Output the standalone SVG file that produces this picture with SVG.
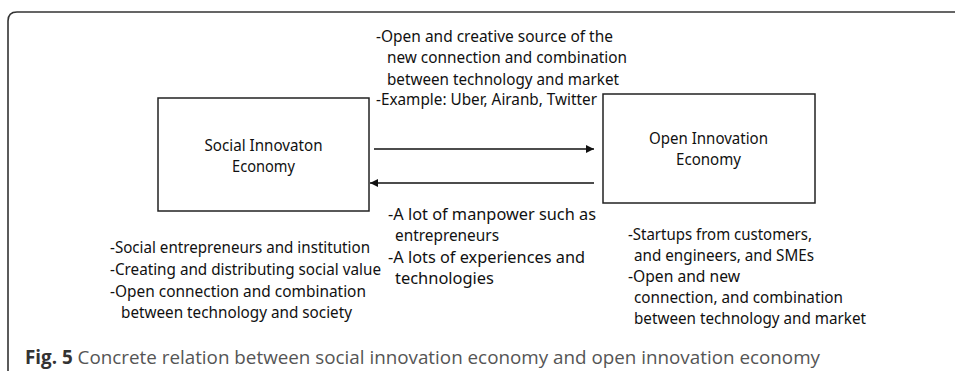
<svg xmlns="http://www.w3.org/2000/svg" width="955" height="371" viewBox="0 0 955 371">
<style>
.frame{fill:none;stroke:#333;stroke-width:1.6}
.box{fill:#fff;stroke:#222;stroke-width:1.5}
.conn{stroke:#111;stroke-width:1.5;fill:none}
text{font-family:"Noto Sans","Open Sans","Liberation Sans",sans-serif;font-size:16px;fill:#111}
.c{text-anchor:middle}
.cap{font-family:"Open Sans","Noto Sans","Liberation Sans",sans-serif;font-size:19px;fill:#555}
.capb{font-weight:bold;fill:#333}
</style>
<defs>
<marker id="ah" viewBox="0 0 10 10" refX="10" refY="5" markerWidth="8" markerHeight="8" markerUnits="userSpaceOnUse" orient="auto">
<path d="M0,0 L10,5 L0,10 z" fill="#111"/>
</marker>
</defs>
<rect width="955" height="371" fill="#fff"/>
<path class="frame" d="M8,371 V21 Q8,12 17,12 H955"/>
<g id="connectors">
<line class="conn" x1="374" y1="149" x2="594" y2="149" marker-end="url(#ah)"/>
<line class="conn" x1="594" y1="183" x2="370" y2="183" marker-end="url(#ah)"/>
</g>
<g id="node-social">
<rect class="box" x="158" y="98" width="211" height="113"/>
<text class="c" x="263.5" y="151" textLength="118" lengthAdjust="spacingAndGlyphs">Social Innovaton</text>
<text class="c" x="263.5" y="172" textLength="63" lengthAdjust="spacingAndGlyphs">Economy</text>
</g>
<g id="node-open">
<rect class="box" x="603" y="94" width="212" height="109"/>
<text class="c" x="708.5" y="144" textLength="119" lengthAdjust="spacingAndGlyphs">Open Innovation</text>
<text class="c" x="708.5" y="165" textLength="65" lengthAdjust="spacingAndGlyphs">Economy</text>
</g>
<g id="label-top">
<text x="376" y="42" textLength="237" lengthAdjust="spacingAndGlyphs">-Open and creative source of the</text>
<text x="387" y="63" textLength="240" lengthAdjust="spacingAndGlyphs">new connection and combination</text>
<text x="387" y="85" textLength="232" lengthAdjust="spacingAndGlyphs">between technology and market</text>
<text x="376" y="105" textLength="221" lengthAdjust="spacingAndGlyphs">-Example: Uber, Airanb, Twitter</text>
</g>
<g id="label-middle">
<text x="388" y="220" textLength="208" lengthAdjust="spacingAndGlyphs">-A lot of manpower such as</text>
<text x="395" y="241" textLength="104" lengthAdjust="spacingAndGlyphs">entrepreneurs</text>
<text x="388" y="263" textLength="197" lengthAdjust="spacingAndGlyphs">-A lots of experiences and</text>
<text x="395" y="284" textLength="99" lengthAdjust="spacingAndGlyphs">technologies</text>
</g>
<g id="label-social">
<text x="110" y="253" textLength="260" lengthAdjust="spacingAndGlyphs">-Social entrepreneurs and institution</text>
<text x="110" y="275" textLength="271" lengthAdjust="spacingAndGlyphs">-Creating and distributing social value</text>
<text x="110" y="297" textLength="256" lengthAdjust="spacingAndGlyphs">-Open connection and combination</text>
<text x="121" y="318" textLength="231" lengthAdjust="spacingAndGlyphs">between technology and society</text>
</g>
<g id="label-open">
<text x="628" y="240" textLength="184" lengthAdjust="spacingAndGlyphs">-Startups from customers,</text>
<text x="634" y="261" textLength="180" lengthAdjust="spacingAndGlyphs">and engineers, and SMEs</text>
<text x="628" y="282" textLength="112" lengthAdjust="spacingAndGlyphs">-Open and new</text>
<text x="634" y="303" textLength="209" lengthAdjust="spacingAndGlyphs">connection, and combination</text>
<text x="634" y="324" textLength="232" lengthAdjust="spacingAndGlyphs">between technology and market</text>
</g>
<text class="cap" x="25" y="364" textLength="795" lengthAdjust="spacingAndGlyphs"><tspan class="capb">Fig. 5</tspan> Concrete relation between social innovation economy and open innovation economy</text>
</svg>
